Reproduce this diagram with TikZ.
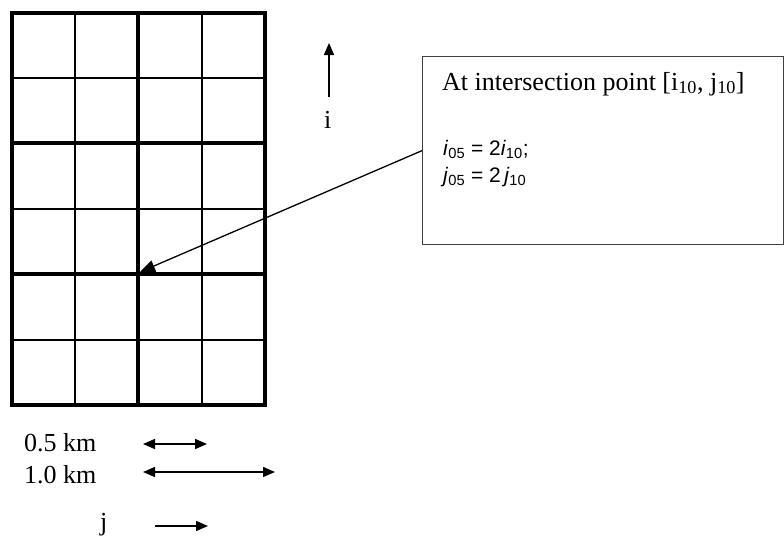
\documentclass[tikz,border=0pt]{standalone}
\usepackage{fontspec}
\setmainfont{Liberation Serif}
\setsansfont{Liberation Sans}
\usetikzlibrary{arrows.meta}
\tikzset{
  thin grid/.style={line width=1.3pt, black},
  thick grid/.style={line width=4pt, black},
  lbl/.style={inner sep=0pt, anchor=base west, font=\fontsize{26}{30}\selectfont},
  mlbl/.style={inner sep=0pt, anchor=base west, font=\sffamily\fontsize{21}{25}\selectfont},
  tri/.style={-{Triangle[length=12pt,width=10pt]}, line width=1.6pt},
  dtri/.style={{Triangle[length=12pt,width=10pt]}-{Triangle[length=12pt,width=10pt]}, line width=1.6pt},
}
\begin{document}
\begin{tikzpicture}[x=1pt,y=-1pt]
\useasboundingbox (0,0) rectangle (784,538);
% thin grid lines
\foreach \x in {75,202} \draw[thin grid] (\x,13) -- (\x,405);
\foreach \y in {78,209,340} \draw[thin grid] (12,\y) -- (265,\y);
% thick grid lines
\foreach \x in {138} \draw[thick grid] (\x,13) -- (\x,405);
\foreach \y in {143,274} \draw[thick grid] (12,\y) -- (265,\y);
\draw[thick grid] (12,13) rectangle (265,405);
% i direction arrow
\coordinate (ia) at (329,97);
\coordinate (ib) at (329,43);
\draw[tri] (ia) -- (ib);
\node[lbl] (ilbl) at (324,128) {i};
% box
\node[draw=black!75, line width=1.3pt, minimum width=361pt, minimum height=188pt, anchor=north west, inner sep=0pt] (box) at (422,56) {};
\node[lbl] (title) at (442,90) {At intersection point [i\textsubscript{10}, j\textsubscript{10}]};
\node[mlbl] (eq1) at (443,155) {\textit{i}\textsubscript{05} = 2\textit{i}\textsubscript{10};};
\node[mlbl] (eq2) at (443,182) {\textit{j}\textsubscript{05} = 2\,\textit{j}\textsubscript{10}};
% pointer arrow
\coordinate (p) at (140,272);
\draw[-{Triangle[length=15pt,width=12pt]}, line width=1.3pt] (box.west) -- (p);
% scale
\node[lbl] (s05) at (24,451) {0.5 km};
\node[lbl] (s10) at (24,483) {1.0 km};
\coordinate (a1) at (143,444);
\coordinate (a2) at (207,444);
\coordinate (b1) at (143,472);
\coordinate (b2) at (275,472);
\draw[dtri] (a1) -- (a2);
\draw[dtri] (b1) -- (b2);
\node[lbl] (jlbl) at (100,530) {j};
\coordinate (c1) at (155,526);
\coordinate (c2) at (208,526);
\draw[tri] (c1) -- (c2);
\end{tikzpicture}
\end{document}
